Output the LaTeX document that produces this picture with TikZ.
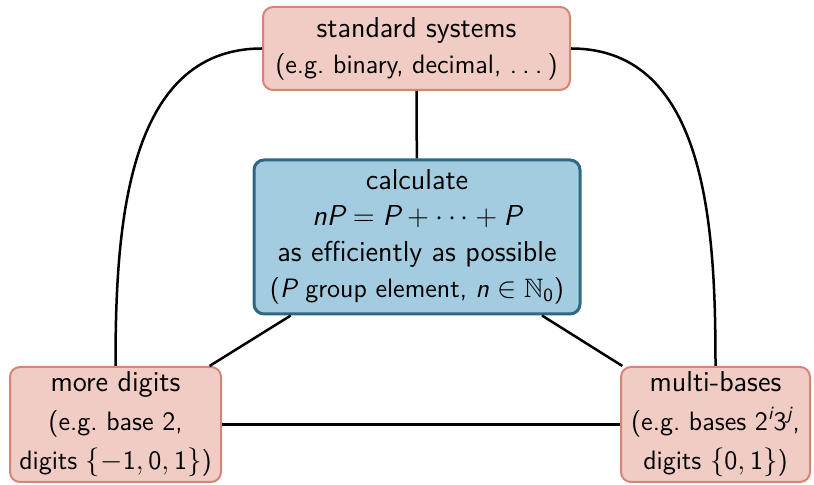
\documentclass[tikz,border=0pt]{standalone}
\usepackage{amsmath,amssymb}
\definecolor{pinkfill}{RGB}{240,204,196}
\definecolor{pinkdraw}{RGB}{214,132,120}
\definecolor{bluefill}{RGB}{164,204,224}
\definecolor{bluedraw}{RGB}{46,104,130}
\newcommand{\smallpar}{\fontsize{13.3}{18}\selectfont}
\newcommand{\mydots}{.\kern.2em.\kern.2em.\kern.2em}
\begin{document}
\begin{tikzpicture}[x=0.5pt,y=-0.5pt,
  every node/.style={font=\sffamily\fontsize{14.4}{18}\selectfont, align=center, inner sep=0pt},
  pinkbox/.style={draw=pinkdraw, fill=pinkfill, line width=1pt, rounded corners=5pt},
  bluebox/.style={draw=bluedraw, fill=bluefill, line width=1.5pt, rounded corners=5pt},
  conn/.style={line width=1.25pt, black}]
\useasboundingbox (0,0) rectangle (814,485);
\node[pinkbox, minimum width=153.5pt, minimum height=41.5pt] (top) at (416.5,48.5)
  {standard systems\\{\smallpar(e.g.\ binary, decimal, \mydots)}};
\node[bluebox, minimum width=163pt, minimum height=77pt] (mid) at (417,237)
  {calculate\\$\textit{n}\textit{P} = \textit{P} + \cdots + \textit{P}$\\as efficiently as possible\\{\smallpar($\textit{P}$ group element, $\textit{n} \in \mathbb{N}_{\text{0}}$)}};
\node[pinkbox, minimum width=105.5pt, minimum height=57.5pt] (bl) at (115.5,424.5)
  {more digits\\[1.5pt]{\smallpar(e.g.\ base 2,}\\[1.5pt]{\smallpar digits $\{-\text{1},\text{0},\text{1}\}$)}};
\node[pinkbox, minimum width=94.5pt, minimum height=57.5pt] (br) at (715.5,424.5)
  {multi-bases\\[1.5pt]{\smallpar(e.g.\ bases $\text{2}^{\textit{i}}\text{3}^{\textit{j}}$,}\\[1.5pt]{\smallpar digits $\{\text{0},\text{1}\}$)}};
\draw[conn] (top) -- (mid);
\draw[conn] (mid) -- (bl);
\draw[conn] (mid) -- (br);
\draw[conn] (bl) -- (br);
\draw[conn] (top.west) to[out=180,in=90] (bl.north);
\draw[conn] (top.east) to[out=0,in=90] (br.north);
\end{tikzpicture}
\end{document}
